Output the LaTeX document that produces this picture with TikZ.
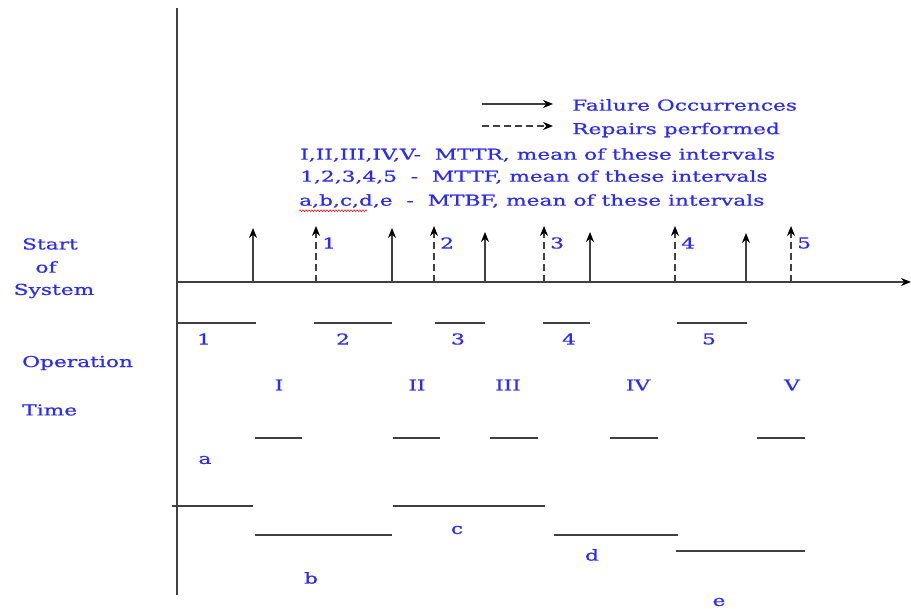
\documentclass[tikz,border=0pt]{standalone}
\usepackage{fontspec}
\setmainfont{DejaVu Serif}[FakeStretch=1.45,FakeBold=0.7]
\usetikzlibrary{arrows.meta,positioning,calc,decorations.pathmorphing}
\definecolor{labelblue}{HTML}{2B2BF5}
\definecolor{axisgray}{HTML}{404040}
\tikzset{
    every node/.style={font=\fontsize{15}{18}\selectfont,text=labelblue,inner sep=0pt},
    axisline/.style={draw=axisgray,line width=1.4pt},
    fail/.style={draw=axisgray,line width=1.3pt,-{Stealth[length=10pt,width=8pt,black]}},
    repair/.style={fail,dash pattern=on 7pt off 4pt},
    interval/.style={draw=axisgray,line width=1.3pt},
    spellwave/.style={draw=red,line width=0.5pt,decorate,decoration={snake,amplitude=1pt,segment length=3pt}}
}
\begin{document}
\begin{tikzpicture}[x=1pt,y=-1pt]
    \useasboundingbox (0,0) rectangle (911,609);
    % axes
    \coordinate (origin) at (177,282);
    \coordinate (ytop) at (177,8);
    \coordinate (ybot) at (177,595);
    \coordinate (xend) at (911,282);
    \draw[axisline] (ybot)--(ytop);
    \draw[axisline,-{Stealth[length=10pt,width=8pt,black]}] (origin)--(xend);
    % legend
    \coordinate (legfail0) at (482,104);
    \coordinate (legfail1) at (553,104);
    \coordinate (legrep0) at (482,126);
    \coordinate (legrep1) at (553,126);
    \draw[fail] (legfail0)--(legfail1);
    \draw[repair] (legrep0)--(legrep1);
    \node[anchor=west] (legfail) at (572,105) {Failure Occurrences};
    \node[anchor=west] (legrep) at (572,130) {Repairs performed};
    \node[anchor=west] (mttr) at (300,155) {I,II,III,IV,V-\ \ MTTR, mean of these intervals};
    \node[anchor=west] (mttf) at (300,177) {1,2,3,4,5\ \ -\ \ MTTF, mean of these intervals};
    \node[anchor=west] (mtbf) at (299,201) {a,b,c,d,e\ \ -\ \ MTBF, mean of these intervals};
    \draw[spellwave] ($(mtbf.base west)+(0,5)$)--($(mtbf.base west)+(68,5)$);
    % left labels
    \node (start) at (50,244) {Start};
    \node (of) at (46,267) {of};
    \node (system) at (54,291) {System};
    \node[anchor=west] (operation) at (22,363) {Operation};
    \node[anchor=west] (time) at (22,410) {Time};
    % failures
    \foreach \n/\x/\t in {1/253/228,2/392/228,3/485/232,4/590/232,5/746/233}{
        \coordinate (f\n) at (\x,282);
        \coordinate (ft\n) at (\x,\t);
        \draw[fail] (f\n)--(ft\n);
    }
    % repairs
    \foreach \n/\x in {1/316,2/434,3/544,4/675,5/791}{
        \coordinate (r\n) at (\x,282);
        \coordinate (rt\n) at (\x,226);
        \draw[repair] (r\n)--(rt\n);
        \node[anchor=west] (rl\n) at (\x+6,243) {\n};
    }
    % times to failure
    \foreach \n/\a/\b/\m in {1/177/256/204,2/314/392/343,3/435/485/458,4/543/590/569,5/677/747/709}{
        \coordinate (up\n a) at (\a,323);
        \coordinate (up\n b) at (\b,323);
        \draw[interval] (up\n a)--(up\n b);
        \node (upl\n) at (\m,339) {\n};
    }
    % times to repair
    \foreach \n/\a/\b/\m in {I/255/302/279,II/393/440/417,III/490/538/508,IV/610/658/638,V/757/805/792}{
        \coordinate (dn\n a) at (\a,438);
        \coordinate (dn\n b) at (\b,438);
        \draw[interval] (dn\n a)--(dn\n b);
        \node (dnl\n) at (\m,385) {\n};
    }
    % times between failures
    \foreach \n/\a/\b/\y/\lx/\ly in {a/172/253/506/205/460,b/255/392/535/311/578,c/393/545/506/457/530,d/554/678/535/592/555,e/676/805/551/719/602}{
        \coordinate (bt\n a) at (\a,\y);
        \coordinate (bt\n b) at (\b,\y);
        \draw[interval] (bt\n a)--(bt\n b);
        \node (btl\n) at (\lx,\ly) {\n};
    }
\end{tikzpicture}
\end{document}
